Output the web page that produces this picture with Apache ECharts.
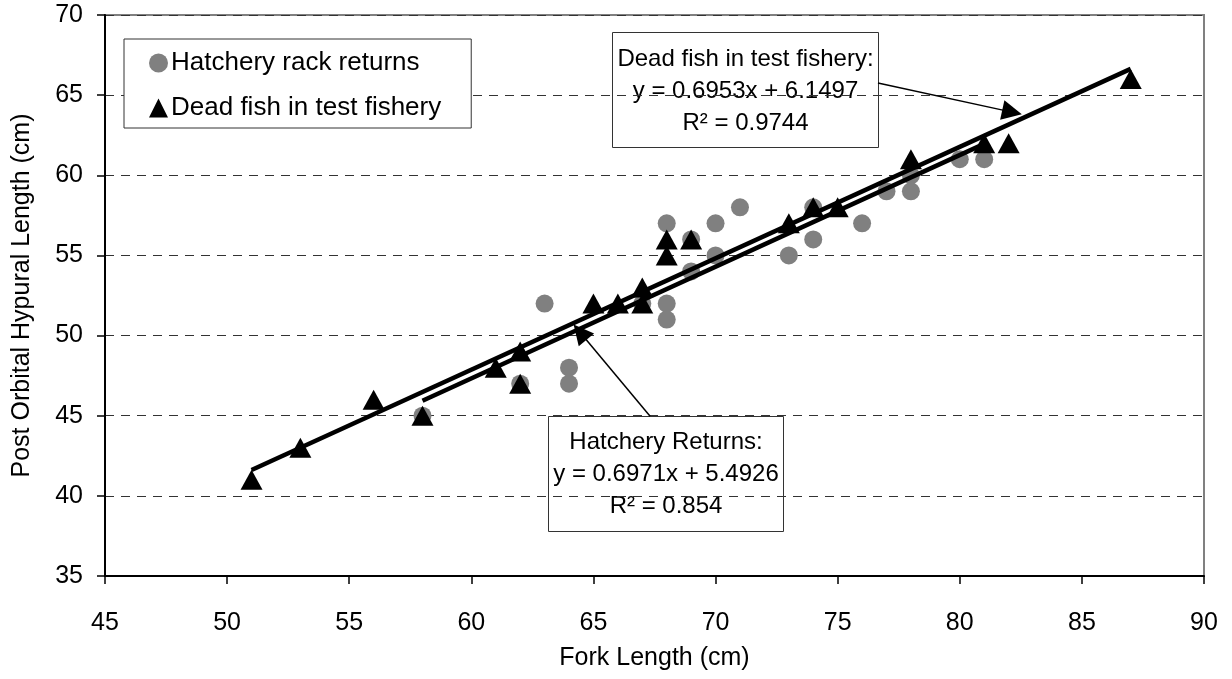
<!DOCTYPE html>
<html>
<head>
<meta charset="utf-8">
<script src="https://cdn.jsdelivr.net/npm/echarts@6/dist/echarts.min.js"></script>
<style>
html,body{margin:0;padding:0;background:#fff;}
#c{width:1232px;height:679px;}
</style>
</head>
<body>
<div id="c"></div>
<script>
// Hatchery rack returns
const hatchX = [58,62,63,64,64,67,68,68,68,69,69,70,70,71,73,74,74,76,77,78,78,80,81];
const hatchY = [45,47,52,48,47,52,57,52,51,56,54,57,55,58,55,56,58,57,59,59,60,61,61];
// Dead fish in test fishery
const deadX = [51,53,56,58,61,62,62,65,66,67,67,68,68,69,73,74,75,78,81,82,87];
const deadY = [41,43,46,45,48,49,47,52,52,52,53,56,55,56,57,58,58,61,62,62,66];
// Trendline end points (from the equations shown)
const deadTrendX = [51, 87];
const deadTrendY = [41.61, 66.64];
const hatchTrendX = [58, 81];
const hatchTrendY = [45.93, 61.96];
// Annotation arrows [start, end] in data units
const deadArrow = [[76.65, 65.76], [82.14, 63.94]];
const hatchArrow = [[67.32, 44.97], [64.45, 50.21]];
const deadLabel = ['Dead fish in test fishery:', 'y = 0.6953x + 6.1497', 'R² = 0.9744'];
const hatchLabel = ['Hatchery Returns:', 'y = 0.6971x + 5.4926', 'R² = 0.854'];

const zip = (a, b) => a.map((v, i) => [v, b[i]]);
const FONT = 'Liberation Sans, Arial, sans-serif';

const chart = echarts.init(document.getElementById('c'), null, {renderer: 'canvas'});
chart.setOption({
  backgroundColor: '#fff',
  animation: false,
  textStyle: {fontFamily: FONT, color: '#000'},
  grid: {left: 105, right: 28, top: 15, bottom: 103, show: true, borderColor: '#808080', borderWidth: 2, backgroundColor: '#fff'},
  legend: {
    orient: 'vertical', left: 124, top: 39,
    data: ['Hatchery rack returns', 'Dead fish in test fishery'],
    backgroundColor: '#fff', borderColor: '#333', borderWidth: 1,
    padding: [9, 30, 5, 25], itemGap: 15, itemWidth: 19, itemHeight: 19,
    textStyle: {fontSize: 26, lineHeight: 30, color: '#000', fontFamily: FONT, padding: [0,0,0,-2]}
  },
  xAxis: {
    type: 'value', min: 45, max: 90, interval: 5,
    name: 'Fork Length (cm)', nameLocation: 'middle', nameGap: 70,
    nameTextStyle: {fontSize: 25, color: '#000', fontFamily: FONT},
    axisLine: {show: true, lineStyle: {color: '#000', width: 2}},
    axisTick: {show: true, length: 8, lineStyle: {color: '#000', width: 1.5}},
    axisLabel: {fontSize: 25, color: '#000', margin: 35, fontFamily: FONT},
    splitLine: {show: false}
  },
  yAxis: {
    type: 'value', min: 35, max: 70, interval: 5,
    name: 'Post Orbital Hypural Length (cm)', nameLocation: 'middle', nameGap: 70,
    nameTextStyle: {fontSize: 25, color: '#000', fontFamily: FONT},
    axisLine: {show: true, lineStyle: {color: '#000', width: 2}},
    axisTick: {show: true, length: 8, lineStyle: {color: '#000', width: 1.5}},
    axisLabel: {fontSize: 25, color: '#000', margin: 22, fontFamily: FONT},
    splitLine: {show: true, lineStyle: {color: '#333', width: 1, type: [9, 7]}}
  },
  series: [
    {
      name: 'Hatchery rack returns', type: 'scatter', symbol: 'circle', symbolSize: 18,
      itemStyle: {color: '#808080', opacity: 1}, data: zip(hatchX, hatchY), z: 3
    },
    {
      name: 'Dead fish in test fishery', type: 'scatter', symbol: 'triangle', symbolSize: [22, 20],
      itemStyle: {color: '#000', opacity: 1}, data: zip(deadX, deadY), z: 4,
      markLine: {
        silent: true, symbol: ['none', 'triangle'], symbolSize: 20,
        lineStyle: {color: '#000', width: 1.5, type: 'solid', opacity: 1},
        itemStyle: {color: '#000'},
        label: {show: false},
        data: [
          [{coord: deadArrow[0]}, {coord: deadArrow[1]}],
          [{coord: hatchArrow[0]}, {coord: hatchArrow[1]}]
        ]
      }
    },
    {
      name: 'deadTrend', type: 'line', data: zip(deadTrendX, deadTrendY), showSymbol: false, symbol: 'none',
      lineStyle: {color: '#000', width: 4.5}, z: 5, silent: true
    },
    {
      name: 'hatchTrend', type: 'line', data: zip(hatchTrendX, hatchTrendY), showSymbol: false, symbol: 'none',
      lineStyle: {color: '#000', width: 4.5}, z: 5, silent: true
    }
  ],
  graphic: [
    {
      type: 'group', left: 612, top: 32, z: 100,
      children: [
        {type: 'rect', shape: {x: 0, y: 0, width: 266, height: 115}, style: {fill: '#fff', stroke: '#333', lineWidth: 1}},
        {type: 'text', x: 133, y: 59, style: {text: deadLabel.join('\n'), font: '24px ' + FONT, fill: '#000', textAlign: 'center', textVerticalAlign: 'middle', lineHeight: 32}}
      ]
    },
    {
      type: 'group', left: 548, top: 416, z: 100,
      children: [
        {type: 'rect', shape: {x: 0, y: 0, width: 235, height: 115}, style: {fill: '#fff', stroke: '#333', lineWidth: 1}},
        {type: 'text', x: 117.5, y: 58, style: {text: hatchLabel.join('\n'), font: '24px ' + FONT, fill: '#000', textAlign: 'center', textVerticalAlign: 'middle', lineHeight: 32}}
      ]
    }
  ]
});
</script>
</body>
</html>
